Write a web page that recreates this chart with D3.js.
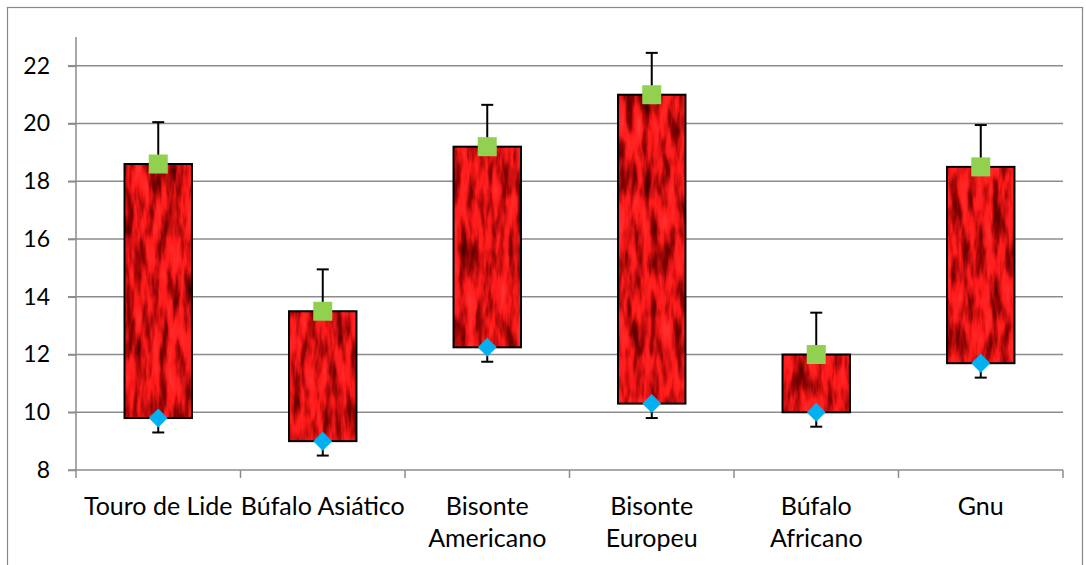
<!DOCTYPE html>
<html>
<head>
<meta charset="utf-8">
<script src="https://cdn.jsdelivr.net/npm/d3@7"></script>
<style>
  body { margin: 0; background: #fff; }
  svg text { font-family: "Lato", "Open Sans", sans-serif; fill: #000; }
</style>
</head>
<body>
<div id="chart"></div>
<script>
// chart data
const categories = ["Touro de Lide", "Búfalo Asiático", "Bisonte Americano", "Bisonte Europeu", "Búfalo Africano", "Gnu"];
const highValues = [18.6, 13.5, 19.2, 21.0, 12.0, 18.5];
const lowValues = [9.8, 9.0, 12.25, 10.3, 10.0, 11.7];
const errorUp = [1.45, 1.45, 1.45, 1.45, 1.45, 1.45];
const errorDown = [0.5, 0.5, 0.5, 0.5, 0.5, 0.5];
const yTicks = [8, 10, 12, 14, 16, 18, 20, 22];

const W = 1086, H = 565;
const margin = {top: 37, right: 23, bottom: 95, left: 76};
const width = W - margin.left - margin.right,
      height = H - margin.top - margin.bottom;
const fontSize = "25px";

const root = d3.select("#chart").append("svg")
  .attr("width", W).attr("height", H);

// bar texture
const defs = root.append("defs");
const filt = defs.append("filter").attr("id", "tex")
  .attr("x", 0).attr("y", 0).attr("width", 1).attr("height", 1)
  .attr("color-interpolation-filters", "sRGB");
filt.append("feTurbulence")
  .attr("type", "fractalNoise")
  .attr("baseFrequency", "0.12 0.025")
  .attr("numOctaves", 3)
  .attr("seed", 7)
  .attr("result", "noise");
filt.append("feColorMatrix")
  .attr("in", "noise").attr("type", "matrix")
  .attr("values", "1.7 0 0 0 0.02  0.35 0 0 0 -0.1  0.35 0 0 0 -0.1  0 0 0 0 1")
  .attr("result", "col");
filt.append("feComposite").attr("in", "col").attr("in2", "SourceGraphic").attr("operator", "in");

// outer frame
root.append("rect")
  .attr("x", 7.5).attr("y", 7.5)
  .attr("width", 1075).attr("height", 600)
  .attr("fill", "none").attr("stroke", "#888").attr("stroke-width", 1.2);

const svg = root.append("g")
  .attr("transform", `translate(${margin.left}, ${margin.top})`);

const x = d3.scaleBand().domain(categories).range([0, width]);
const y = d3.scaleLinear().domain([8, 23]).range([height, 0]);

// gridlines
svg.append("g")
  .selectAll("line")
  .data(yTicks.slice(1))
  .join("line")
    .attr("x1", -8).attr("x2", width)
    .attr("y1", d => y(d)).attr("y2", d => y(d))
    .attr("stroke", "#8c8c8c").attr("stroke-width", 1.5);

// y axis
const yAxis = svg.append("g")
  .call(d3.axisLeft(y).tickValues(yTicks).tickSize(8).tickPadding(18));
yAxis.attr("font-family", null);
yAxis.select(".domain").attr("stroke", "#8c8c8c").attr("stroke-width", 1.5)
  .attr("d", `M-8,${height}H0V0`);
yAxis.selectAll(".tick line").attr("stroke", "#8c8c8c").attr("stroke-width", 1.5);
yAxis.selectAll("text").style("font-size", "23px").attr("fill", "#000");

// x axis
const xAxis = svg.append("g").attr("transform", `translate(0, ${height})`);
xAxis.append("line")
  .attr("x1", 0).attr("x2", width).attr("y1", 0).attr("y2", 0)
  .attr("stroke", "#8c8c8c").attr("stroke-width", 1.5);
xAxis.selectAll(".sep")
  .data(d3.range(categories.length + 1))
  .join("line")
    .attr("class", "sep")
    .attr("x1", i => i * x.step()).attr("x2", i => i * x.step())
    .attr("y1", 0).attr("y2", 8)
    .attr("stroke", "#8c8c8c").attr("stroke-width", 1.5);

// category labels, wrapped to band width
categories.forEach(function(c) {
  const t = xAxis.append("text")
    .attr("x", x(c) + x.bandwidth() / 2)
    .attr("y", 45)
    .attr("text-anchor", "middle")
    .style("font-size", fontSize);
  t.text(c);
  if (t.node().getComputedTextLength() > x.bandwidth()) {
    const words = c.split(" ");
    t.text(null);
    words.forEach(function(w, i) {
      t.append("tspan").attr("x", x(c) + x.bandwidth() / 2)
        .attr("dy", i === 0 ? 0 : 32).text(w);
    });
  }
});

const data = categories.map((c, i) => ({
  cat: c, high: highValues[i], low: lowValues[i], up: errorUp[i], down: errorDown[i]
}));

const barW = x.bandwidth() * 0.41;
const cx = d => x(d.cat) + x.bandwidth() / 2;

// error bars
const err = svg.append("g").attr("stroke", "#000").attr("stroke-width", 2);
err.selectAll(".eu").data(data).join("line")
  .attr("x1", cx).attr("x2", cx)
  .attr("y1", d => y(d.high)).attr("y2", d => y(d.high + d.up));
err.selectAll(".euc").data(data).join("line")
  .attr("x1", d => cx(d) - 6).attr("x2", d => cx(d) + 6)
  .attr("y1", d => y(d.high + d.up)).attr("y2", d => y(d.high + d.up));
err.selectAll(".ed").data(data).join("line")
  .attr("x1", cx).attr("x2", cx)
  .attr("y1", d => y(d.low)).attr("y2", d => y(d.low - d.down));
err.selectAll(".edc").data(data).join("line")
  .attr("x1", d => cx(d) - 6).attr("x2", d => cx(d) + 6)
  .attr("y1", d => y(d.low - d.down)).attr("y2", d => y(d.low - d.down));

// bars
svg.append("g").selectAll("rect")
  .data(data).join("rect")
    .attr("x", d => cx(d) - barW / 2)
    .attr("y", d => y(d.high))
    .attr("width", barW)
    .attr("height", d => y(d.low) - y(d.high))
    .attr("fill", "#c00")
    .attr("filter", "url(#tex)");
svg.append("g").selectAll("rect")
  .data(data).join("rect")
    .attr("x", d => cx(d) - barW / 2)
    .attr("y", d => y(d.high))
    .attr("width", barW)
    .attr("height", d => y(d.low) - y(d.high))
    .attr("fill", "none")
    .attr("stroke", "#000").attr("stroke-width", 2);

// markers
svg.append("g").selectAll("rect")
  .data(data).join("rect")
    .attr("x", d => cx(d) - 9.5)
    .attr("y", d => y(d.high) - 9.5)
    .attr("width", 19).attr("height", 19)
    .attr("fill", "#92d050");
svg.append("g").selectAll("path")
  .data(data).join("path")
    .attr("d", d => `M${cx(d)},${y(d.low) - 9.5}L${cx(d) + 9.5},${y(d.low)}L${cx(d)},${y(d.low) + 9.5}L${cx(d) - 9.5},${y(d.low)}Z`)
    .attr("fill", "#00b0f0");
</script>
</body>
</html>
